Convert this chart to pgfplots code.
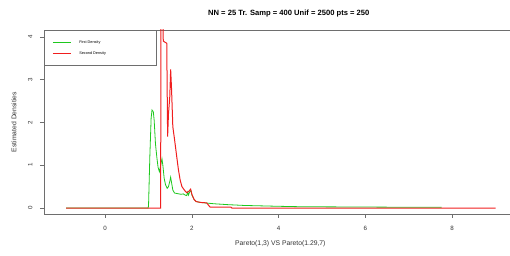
\documentclass[border=0pt]{standalone}
\usepackage{fontspec}
\setmainfont{Liberation Sans}
\usepackage{pgfplots}
\pgfplotsset{compat=1.18}
\definecolor{rgreen}{RGB}{30,200,30}
\definecolor{rred}{RGB}{240,30,30}
\definecolor{axgray}{RGB}{110,110,110}
\begin{document}
\begin{tikzpicture}[x=1pt,y=1pt]
\useasboundingbox (-44,-42) rectangle (466,214);
\begin{axis}[
  at={(0,0)}, anchor=south west,
  scale only axis, width=468pt, height=184pt,
  xmin=-1.41, xmax=9.38, ymin=-0.14, ymax=4.16,
  axis line style={axgray, line width=0.6pt},
  tick align=outside,
  xtick={0,2,4,6,8}, ytick={0,1,2,3,4},
  xtick pos=bottom, ytick pos=left,
  major tick length=4pt,
  tick style={axgray, line width=0.6pt},
  ticklabel style={font=\fontsize{6.2}{7}\selectfont, text=black!80},
  xticklabel style={yshift=-5pt},
  yticklabel style={rotate=90, anchor=south, yshift=4pt},
  /pgf/number format/assume math mode=true,
  xlabel={Pareto(1,3) VS Pareto(1.29,7)},
  ylabel={Estimated Densities},
  label style={font=\fontsize{6.8}{7.5}\selectfont, text=black!80},
  xlabel style={at={(axis description cs:0.505,0)}, anchor=north, yshift=-23pt},
  ylabel style={at={(axis description cs:0,0.5)}, anchor=south, yshift=24pt},
  title={\bfseries NN = 25 Tr. Samp = 400 Unif = 2500 pts = 250},
  title style={font=\fontsize{7.6}{8.5}\selectfont, at={(axis description cs:0.523,1)}, anchor=south, yshift=3pt},
  legend style={at={(0,1)}, anchor=north west, draw=axgray, line width=0.6pt,
    font=\fontsize{3.8}{4.5}\selectfont, inner xsep=8pt, inner ysep=10pt,
    row sep=8pt, column sep=8pt,
    nodes={inner sep=0pt, text height=2.8pt, text depth=0.8pt},
    cells={anchor=west}},
  legend cell align=left,
]
\addplot[rgreen, line width=0.8pt, legend image code/.code={\draw[rgreen, line width=1pt] (0pt,0pt) -- (18pt,0pt);}] coordinates {
(-0.9,0) (0.99,0) (1.0,0.05) (1.03,1.2) (1.06,2.1) (1.08,2.29) (1.11,2.25) (1.13,2.05)
(1.16,1.5) (1.19,1.2) (1.22,0.95) (1.25,0.85) (1.28,1.0) (1.31,1.15) (1.33,1.0) (1.36,0.7)
(1.39,0.55) (1.43,0.46) (1.46,0.5) (1.49,0.62) (1.51,0.72) (1.53,0.6) (1.56,0.42) (1.6,0.35)
(1.65,0.34) (1.7,0.33) (1.75,0.32) (1.8,0.33) (1.85,0.30) (1.88,0.29) (1.9,0.37) (1.92,0.30)
(1.95,0.38) (1.98,0.40) (2.0,0.30) (2.05,0.2) (2.1,0.15) (2.2,0.13) (2.3,0.12) (2.5,0.10)
(2.8,0.08) (3.2,0.06) (3.6,0.05) (4.0,0.04) (4.5,0.03) (5.5,0.025) (6.5,0.02) (7.76,0.02)
};
\addlegendentry{First Density\hspace*{42pt}}
\addplot[rred, line width=1pt, legend image code/.code={\draw[rred, line width=1pt] (0pt,0pt) -- (18pt,0pt);}] coordinates {
(-0.9,0) (1.28,0) (1.285,4.5) (1.33,4.5) (1.34,3.9) (1.42,3.85) (1.44,1.67) (1.46,2.2)
(1.49,2.6) (1.51,3.24) (1.53,2.8) (1.56,1.9) (1.6,1.6) (1.65,1.2) (1.69,0.89) (1.73,0.65)
(1.77,0.5) (1.84,0.40) (1.88,0.36) (1.92,0.38) (1.97,0.44) (2.0,0.32) (2.05,0.2) (2.1,0.15)
(2.2,0.13) (2.34,0.12) (2.42,0.02) (2.9,0.02) (2.92,0) (9.0,0)
};
\addlegendentry{Second Density\hspace*{42pt}}
\end{axis}
\end{tikzpicture}
\end{document}
